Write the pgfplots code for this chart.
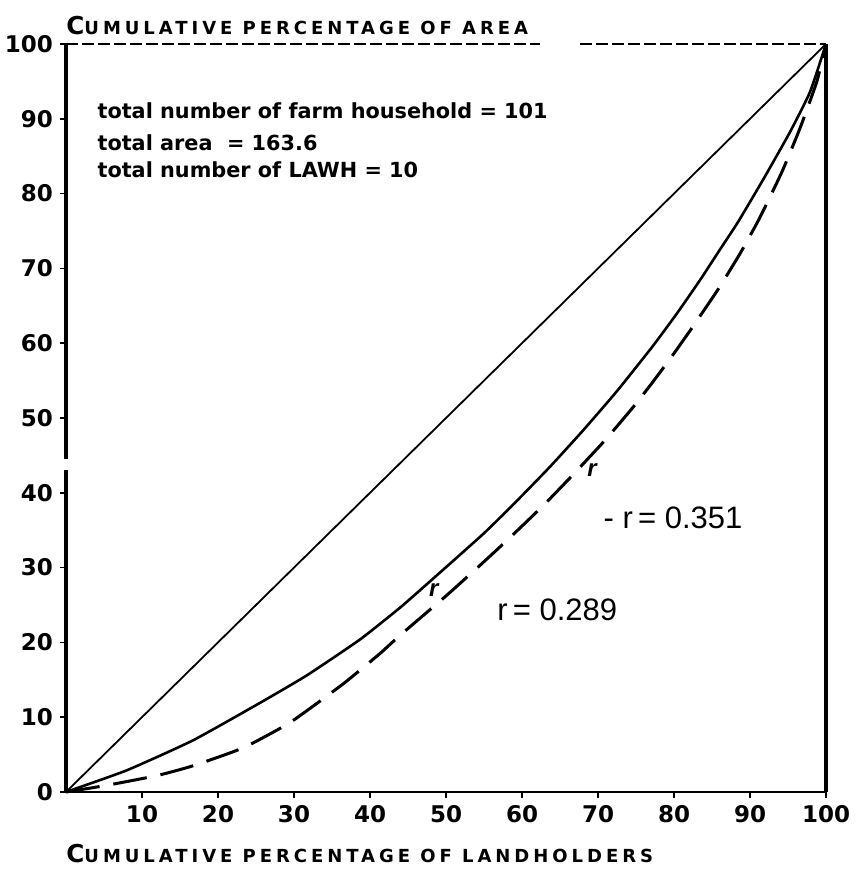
\documentclass[border=0pt]{standalone}
\usepackage{fontspec}
\usepackage{pgfplots}
\usepackage{pgfplotstable}
\pgfplotsset{compat=1.18}
\usetikzlibrary{calc}
\setmainfont{DejaVu Sans}
\newfontfamily\letfont{DejaVu Sans}[LetterSpace=22]
\newfontfamily\rfont{Liberation Sans}
\newcommand\tickfont{\fontsize{11.5}{12}\selectfont\bfseries}

% r = 0.289 (solid Lorenz curve)
\pgfplotstableread{
x y
0 0
8.0 2.9
16.7 6.9
25.5 11.9
31.7 15.6
38.7 20.4
43.9 24.6
47.5 27.8
54.9 34.5
59.3 38.9
63.7 43.5
68.0 48.3
72.5 53.6
77.2 59.6
80.4 64.0
83.4 68.4
86.1 72.6
88.3 76.0
90.3 79.4
92.2 82.7
95.3 88.3
97.9 93.6
100 100
}\lorenzA

% r = 0.351 (dashed Lorenz curve)
\pgfplotstableread{
x y
0 0
5.4 0.9
12.0 2.2
16.7 3.5
23.3 5.9
29.5 9.3
36.4 14.4
41.3 18.5
43.9 20.9
50.1 26.3
54.9 30.7
58.4 34.0
62.8 38.3
66.6 42.3
70.9 47.0
74.5 51.3
77.2 54.8
79.9 58.5
82.4 62.1
85.8 67.2
88.7 72.0
91.3 76.8
94.2 82.9
96.6 88.8
98.8 95.0
100 100
}\lorenzB

\begin{document}
\begin{tikzpicture}
\begin{axis}[
  width=380pt, height=374pt, scale only axis,
  xmin=0, xmax=100, ymin=0, ymax=100,
  axis line style={draw=none},
  xtick={10,20,...,100}, ytick={0,10,...,100},
  xtick pos=bottom, ytick pos=left,
  tick align=outside, major tick length=3pt,
  tick style={black, line width=0.8pt},
  xticklabel style={font=\tickfont},
  yticklabel style={font=\tickfont},
  /pgf/number format/assume math mode=true,
  clip=false,
]
% frame
\draw[line width=2pt] (axis cs:0,0) -- (axis cs:0,43);
\draw[line width=2pt] (axis cs:0,44.5) -- (axis cs:0,100);
\draw[line width=1.8pt] (axis cs:100,0) -- (axis cs:100,100);
\draw[line width=0.8pt] (axis cs:0,0) -- (axis cs:100,0);
\draw[line width=0.6pt, dash pattern=on 6pt off 2pt] (axis cs:0,100) -- (axis cs:62.4,100);
\draw[line width=0.6pt, dash pattern=on 6pt off 2pt] (axis cs:67.6,100) -- (axis cs:100,100);

% line of equality
\addplot[black, line width=0.9pt] coordinates {(0,0) (100,100)};
% Lorenz curves
\addplot[black, line width=1.3pt, smooth, tension=0.3] table {\lorenzA};
\addplot[black, line width=1.5pt, smooth, tension=0.3, dash pattern=on 17pt off 7pt] table {\lorenzB};

% annotations
\node[anchor=base west, inner sep=0, font=\fontsize{10.4}{12}\selectfont\bfseries] at (axis cs:4.1,90.1) {total number of farm household = 101};
\node[anchor=base west, inner sep=0, font=\fontsize{10.4}{12}\selectfont\bfseries] at (axis cs:4.1,85.7) {total area \ = 163.6};
\node[anchor=base west, inner sep=0, font=\fontsize{10.4}{12}\selectfont\bfseries] at (axis cs:4.1,82.2) {total number of LAWH = 10};

\node[anchor=west, inner sep=0, font=\rfont\fontsize{15.5}{17}\selectfont] at (axis cs:56.7,24.3) {r\,= 0.289};
\node[anchor=west, inner sep=0, font=\rfont\fontsize{15.5}{17}\selectfont] at (axis cs:70.7,36.6) {- r\,= 0.351};
\node[inner sep=0, font=\rfont\bfseries\itshape\fontsize{12}{12}\selectfont] at (axis cs:48.4,27.0) {r};
\node[inner sep=0, font=\rfont\bfseries\itshape\fontsize{12}{12}\selectfont] at (axis cs:69.2,43.0) {r};

% axis titles
\node[anchor=base west, inner sep=0, font=\letfont\bfseries, yshift=4.5pt] at (rel axis cs:0,1)
  {{\fontsize{12.3}{14}\selectfont C}{\fontsize{9}{11}\selectfont UMULATIVE PERCENTAGE OF AREA}};
\node[anchor=base west, inner sep=0, font=\letfont\bfseries, yshift=-35pt] at (rel axis cs:0,0)
  {{\fontsize{12.3}{14}\selectfont C}{\fontsize{9}{11}\selectfont UMULATIVE PERCENTAGE OF LANDHOLDERS}};
\end{axis}
\pgfresetboundingbox
\path[use as bounding box] ($(current axis.south west)+(-33pt,-47pt)$) rectangle ($(current axis.north east)+(15.5pt,22pt)$);
\end{tikzpicture}
\end{document}
